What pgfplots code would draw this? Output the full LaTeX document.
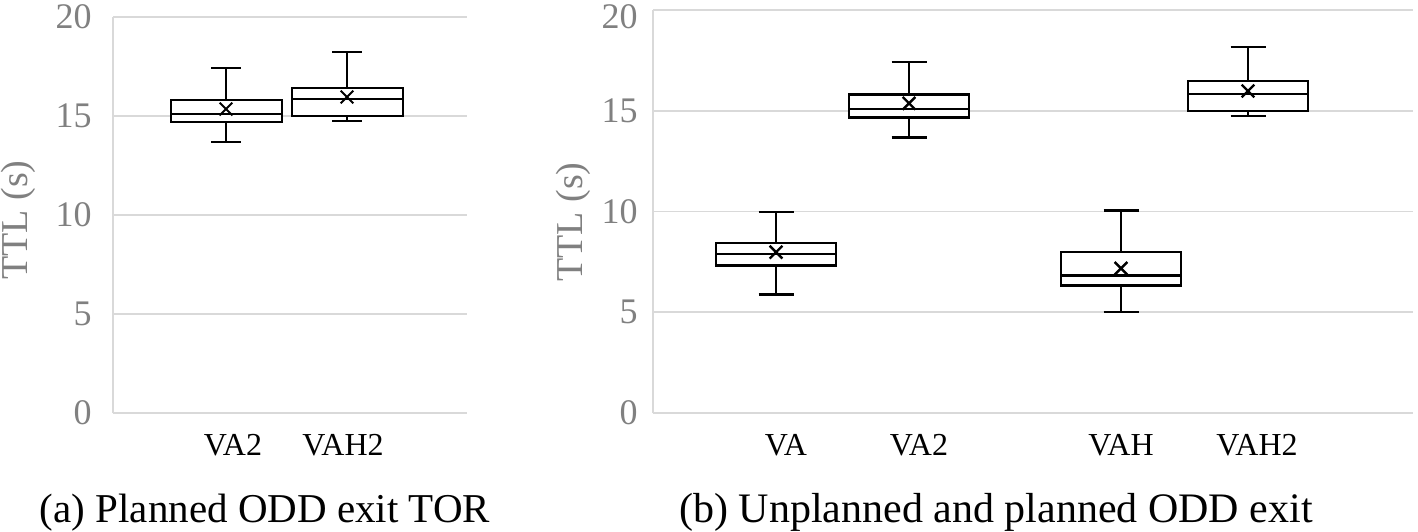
\documentclass[border=0pt]{standalone}
\usepackage{fontspec}
\setmainfont{Liberation Serif}
\usepackage{pgfplots}
\pgfplotsset{compat=1.18}
\usepgfplotslibrary{statistics}
\definecolor{tickgray}{HTML}{808080}
\definecolor{gridgray}{HTML}{D9D9D9}
\pgfplotsset{
  ttlstyle/.style={
    scale only axis,
    anchor=south west,
    ymin=0, ymax=20,
    ymajorgrids,
    grid style={draw=gridgray, line width=0.9pt},
    axis x line*=bottom,
    axis y line*=left,
    axis line style={draw=gridgray, line width=0.9pt, -},
    major tick length=0pt,
    /pgf/number format/assume math mode=true,
    yticklabel style={font=\fontsize{18}{18}\selectfont, text=tickgray, inner sep=0pt},
    xticklabel style={font=\fontsize{16}{16}\selectfont, text=black, inner sep=0pt, anchor=base, yshift=-21pt},
    ylabel={TTL (s)},
    ylabel style={font=\fontsize{19}{19}\selectfont, text=tickgray, anchor=center},
    boxplot/draw direction=y,
    boxplot/every box/.style={draw=black, fill=white},
    boxplot/every whisker/.style={draw=black},
    boxplot/every median/.style={draw=black},
    boxplot/every average/.style={/tikz/mark=x, /tikz/mark size=4.5pt, /tikz/draw=black, /tikz/solid},
  },
}
\begin{document}
\begin{tikzpicture}
\path[use as bounding box] (0,0) rectangle (709pt,265.5pt);
% Panel (a)
\begin{axis}[ttlstyle,
  at={(56.5pt,59pt)}, width=177pt, height=198pt,
  xmin=1.13, xmax=4.67,
  ytick={0,5,10,15,20},
  xtick={2.33,3.43}, xticklabels={VA2,VAH2},
  yticklabel style={xshift=-10.5pt},
  ylabel style={at={(axis description cs:-0.268,0.487)}},
  boxplot/box extend=1.11, boxplot/whisker extend=0.30,
  every axis plot/.append style={line width=1pt},
]
\addplot[boxplot prepared={draw position=2.26, lower whisker=13.7, lower quartile=14.7, median=15.1, upper quartile=15.8, upper whisker=17.42, average=15.35}] coordinates {};
\addplot[boxplot prepared={draw position=3.47, lower whisker=14.75, lower quartile=15.0, median=15.87, upper quartile=16.4, upper whisker=18.23, average=15.96}] coordinates {};
\end{axis}
% Panel (b)
\begin{axis}[ttlstyle,
  at={(326.5pt,59pt)}, width=380pt, height=201.5pt,
  xmin=6.53, xmax=14.13,
  ytick={0,5,10,15},
  extra y ticks={20},
  extra y tick style={yticklabel style={yshift=-3.5pt}},
  xtick={7.86,9.19,11.21,12.57}, xticklabels={VA,VA2,VAH,VAH2},
  yticklabel style={xshift=-7.5pt},
  ylabel style={at={(axis description cs:-0.105,0.474)}},
  boxplot/box extend=1.2, boxplot/whisker extend=0.35,
  every axis plot/.append style={line width=1.2pt},
]
\addplot[boxplot prepared={draw position=7.76, lower whisker=5.89, lower quartile=7.33, median=7.9, upper quartile=8.44, upper whisker=9.98, average=7.98}] coordinates {};
\addplot[boxplot prepared={draw position=9.09, lower whisker=13.68, lower quartile=14.66, median=15.09, upper quartile=15.8, upper whisker=17.43, average=15.37}] coordinates {};
\addplot[boxplot prepared={draw position=11.21, lower whisker=5.0, lower quartile=6.32, median=6.83, upper quartile=8.0, upper whisker=10.04, average=7.18}] coordinates {};
\addplot[boxplot prepared={draw position=12.48, lower whisker=14.75, lower quartile=15.0, median=15.83, upper quartile=16.48, upper whisker=18.16, average=15.98}] coordinates {};
\end{axis}
\node[anchor=base, font=\fontsize{20.5}{20.5}\selectfont, inner sep=0pt] at (132.5pt,4.5pt) {(a) Planned ODD exit TOR};
\node[anchor=base, font=\fontsize{21}{21}\selectfont, inner sep=0pt] at (498pt,4.5pt) {(b) Unplanned and planned ODD exit};
\end{tikzpicture}
\end{document}
